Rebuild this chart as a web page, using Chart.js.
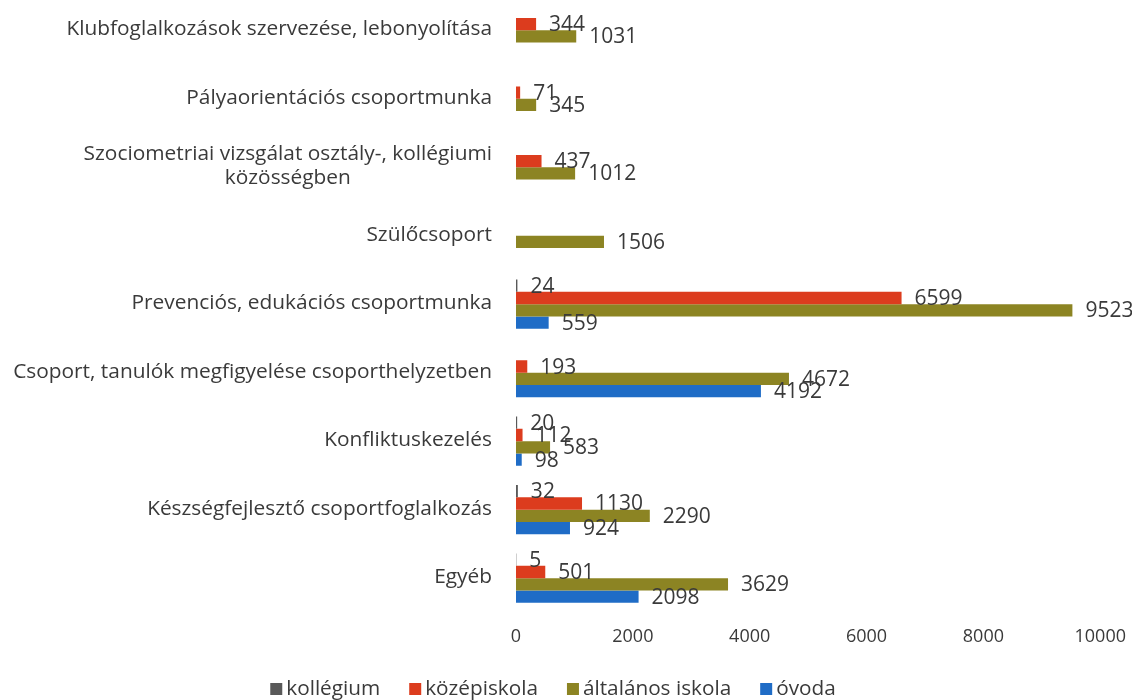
<!DOCTYPE html>
<html><head><meta charset="utf-8">
<script src="https://cdn.jsdelivr.net/npm/chart.js@4"></script>
<style>html,body{margin:0;padding:0;background:#fff}#w{width:1132px;height:700px;overflow:hidden;position:relative}#c{position:absolute;left:0;top:-4px}</style>
</head><body><div id="w"><canvas id="c" width="1132" height="704"></canvas></div>
<script>
const categories = [
  ["Klubfoglalkozások szervezése, lebonyolítása"],
  ["Pályaorientációs csoportmunka"],
  ["Szociometriai vizsgálat osztály-, kollégiumi", "közösségben"],
  ["Szülőcsoport"],
  ["Prevenciós, edukációs csoportmunka"],
  ["Csoport, tanulók megfigyelése csoporthelyzetben"],
  ["Konfliktuskezelés"],
  ["Készségfejlesztő csoportfoglalkozás"],
  ["Egyéb"]
];
const seriesNames = ["kollégium", "középiskola", "általános iskola", "óvoda"];
const kollegium    = [null, null, null, null, 24, null, 20, 32, 5];
const kozepiskola  = [344, 71, 437, null, 6599, 193, 112, 1130, 501];
const altalanos    = [1031, 345, 1012, 1506, 9523, 4672, 583, 2290, 3629];
const ovoda        = [null, null, null, null, 559, 4192, 98, 924, 2098];
const xTicks = [0, 2000, 4000, 6000, 8000, 10000];
const colors = ["#595959", "#DC3C1E", "#8C8423", "#1F6CC6"];

const FONT = "'Open Sans', sans-serif";
const TXT = "#3a3a3a";

function fitSize(ctx, text, target, base) {
  ctx.font = base + "px " + FONT;
  const w = ctx.measureText(text).width;
  return base * target / w;
}

const labelsPlugin = {
  id: 'labels',
  afterDatasetsDraw(chart) {
    const ctx = chart.ctx;
    ctx.save();
    ctx.font = "21px " + FONT;
    ctx.fillStyle = TXT;
    ctx.textAlign = 'left';
    ctx.textBaseline = 'middle';
    chart.data.datasets.forEach((ds, di) => {
      const meta = chart.getDatasetMeta(di);
      meta.data.forEach((el, i) => {
        const v = ds.data[i];
        if (v === null || v === undefined) return;
        ctx.fillText(String(v), el.x + 13, el.y + 1);
      });
    });
    // category labels
    const ys = chart.scales.y;
    const s1 = fitSize(ctx, categories[0][0], 425, 20);
    const s2 = fitSize(ctx, categories[5][0], 480, 20);
    ctx.font = ((s1 + s2) / 2).toFixed(2) + "px " + FONT;
    ctx.textAlign = 'center';
    const right = 492;
    categories.forEach((lines, i) => {
      const cy = ys.getPixelForTick(i);
      let maxW = 0;
      lines.forEach(l => { maxW = Math.max(maxW, ctx.measureText(l).width); });
      const lh = 24;
      const y0 = cy - 1 - (lines.length - 1) * lh / 2;
      lines.forEach((l, k) => ctx.fillText(l, right - maxW / 2, y0 + k * lh));
    });
    // legend
    const ls = fitSize(ctx, "kollégium", 94, 20);
    ctx.font = ls.toFixed(2) + "px " + FONT;
    ctx.textAlign = 'left';
    const items = seriesNames.map((n, i) => ({ n, c: colors[i], w: ctx.measureText(n).width }));
    const box = 12, gapBox = 4, gapItem = 29;
    let total = 0;
    items.forEach((it, i) => { total += box + gapBox + it.w + (i < items.length - 1 ? gapItem : 0); });
    let x = 553 - total / 2;
    const ly = 693;
    items.forEach(it => {
      ctx.fillStyle = it.c;
      ctx.fillRect(x, ly - box / 2, box, box);
      x += box + gapBox;
      ctx.fillStyle = TXT;
      ctx.fillText(it.n, x, ly);
      x += it.w + gapItem;
    });
    ctx.restore();
  }
};

new Chart(document.getElementById('c'), {
  type: 'bar',
  data: {
    labels: categories.map(c => c.join(' ')),
    datasets: [kollegium, kozepiskola, altalanos, ovoda].map((d, i) => ({
      label: seriesNames[i],
      data: d,
      backgroundColor: colors[i],
      borderWidth: 0,
      categoryPercentage: 0.72,
      barPercentage: 1.0
    }))
  },
  options: {
    indexAxis: 'y',
    responsive: false,
    animation: false,
    layout: { padding: { top: 0, right: 30, bottom: 46, left: 0 } },
    plugins: { legend: { display: false }, tooltip: { enabled: false } },
    scales: {
      x: {
        min: 0, max: 10000,
        afterBuildTicks: s => { s.ticks = xTicks.map(v => ({ value: v })); },
        grid: { display: false },
        border: { display: false },
        ticks: { color: TXT, font: { size: 18, family: FONT }, padding: 6, callback: v => String(v) }
      },
      y: {
        grid: { display: false },
        border: { display: false },
        ticks: { display: false },
        afterFit: s => { s.width = 516; }
      }
    }
  },
  plugins: [labelsPlugin]
});
</script>
</body></html>
